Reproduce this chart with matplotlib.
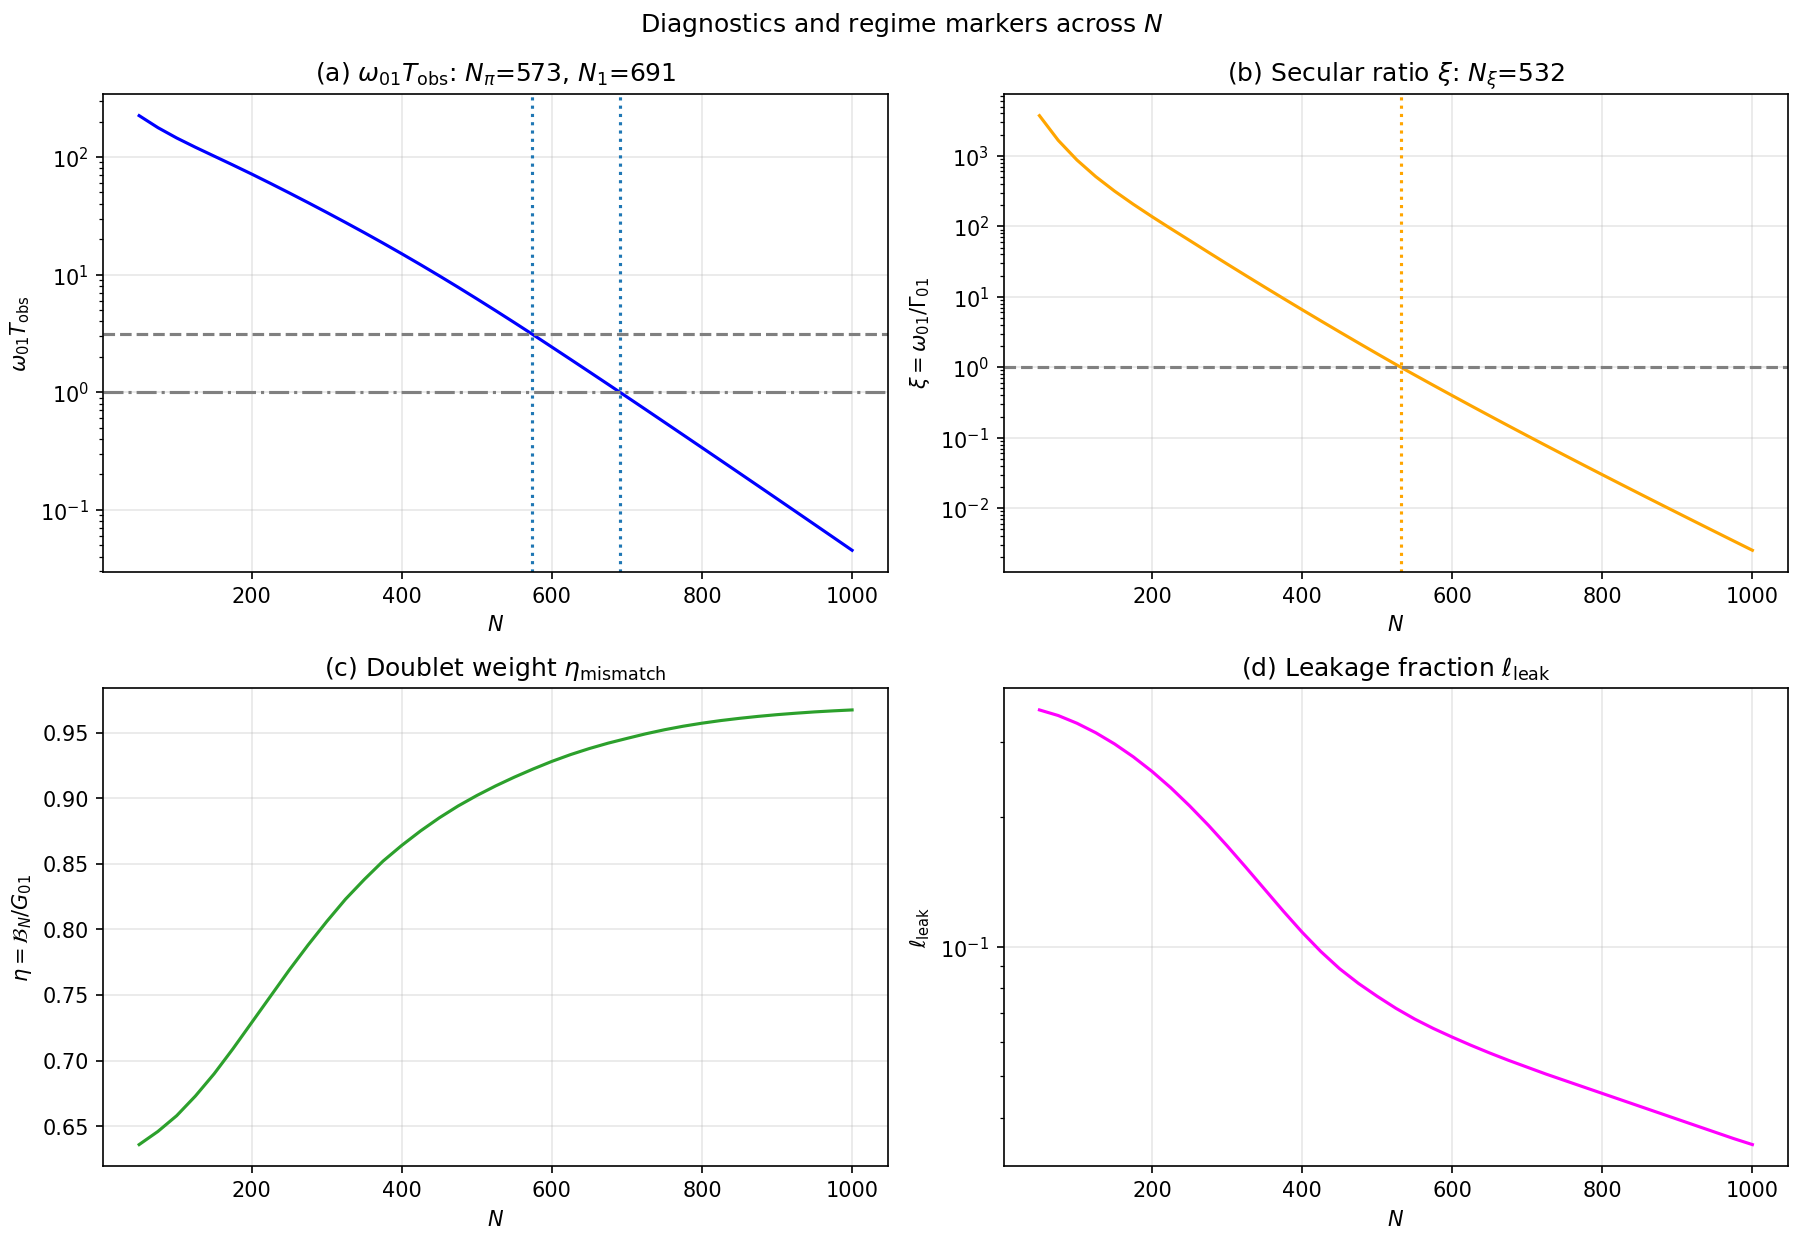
import numpy as np
import matplotlib
matplotlib.use("Agg")
import matplotlib.pyplot as plt

# Sample points in N
N = list(range(50, 1001, 25))

# (a) log10 of omega_01 * T_obs
log_omegaT = [2.352, 2.250, 2.162, 2.083, 2.0075, 1.932, 1.855, 1.7757, 1.6949,
              1.6126, 1.5288, 1.4435, 1.3567, 1.2679, 1.1771, 1.0843, 0.9895,
              0.8927, 0.7939, 0.6936, 0.5918, 0.4885, 0.3837, 0.2784, 0.1726,
              0.0663, -0.0405, -0.1478, -0.2556, -0.3636, -0.4718, -0.5802,
              -0.6888, -0.7976, -0.9066, -1.0158, -1.1252, -1.2348, -1.3446]
# (b) log10 of secular ratio xi
log_xi = [3.57, 3.22, 2.94, 2.705, 2.500, 2.313, 2.137, 1.967, 1.800, 1.632,
          1.4657, 1.3012, 1.1382, 0.9767, 0.8167, 0.6582, 0.5012, 0.3457,
          0.1917, 0.0392, -0.1093, -0.2563, -0.4018, -0.546, -0.689, -0.8308,
          -0.9715, -1.1111, -1.2497, -1.3874, -1.5243, -1.6604, -1.7958,
          -1.9306, -2.0648, -2.1985, -2.3317, -2.4645, -2.5969]
# (c) doublet weight eta
eta = [0.636, 0.646, 0.658, 0.673, 0.690, 0.709, 0.729, 0.749, 0.769, 0.788,
       0.806, 0.823, 0.838, 0.852, 0.864, 0.875, 0.885, 0.894, 0.902, 0.9093,
       0.9160, 0.9222, 0.9280, 0.9332, 0.9378, 0.9419, 0.9455, 0.9490, 0.9521,
       0.9548, 0.9571, 0.9591, 0.9608, 0.9623, 0.9636, 0.9647, 0.9657, 0.9665,
       0.9672]
# (d) log10 of leakage fraction
log_leak = [-0.449, -0.462, -0.480, -0.502, -0.528, -0.558, -0.592, -0.630,
            -0.672, -0.717, -0.765, -0.815, -0.866, -0.917, -0.966, -1.011,
            -1.051, -1.085, -1.115, -1.143, -1.168, -1.190, -1.210, -1.229,
            -1.247, -1.264, -1.280, -1.296, -1.311, -1.326, -1.341, -1.356,
            -1.371, -1.386, -1.401, -1.416, -1.431, -1.446, -1.460]

N_pi, N_1, N_xi = 573, 691, 532
pi_level = np.pi

Na = np.array(N)
omegaT = 10 ** np.array(log_omegaT)
xi = 10 ** np.array(log_xi)
leak = 10 ** np.array(log_leak)

fig, axes = plt.subplots(2, 2, figsize=(12.02, 8.27), dpi=150)
(ax1, ax2), (ax3, ax4) = axes
fig.subplots_adjust(left=0.0574, right=0.9917, top=0.9239, bottom=0.0594,
                    wspace=0.148, hspace=0.243)

ax1.semilogy(Na, omegaT, color='blue', lw=1.5)
ax1.axhline(pi_level, color='gray', ls='--', lw=1.5)
ax1.axhline(1.0, color='gray', ls='-.', lw=1.5)
ax1.axvline(N_pi, color='#1f77b4', ls=':', lw=1.5)
ax1.axvline(N_1, color='#1f77b4', ls=':', lw=1.5)
ax1.set_title(r'(a) $\omega_{01}T_{\rm obs}$: $N_\pi$=%d, $N_1$=%d' % (N_pi, N_1))
ax1.set_ylabel(r'$\omega_{01}T_{\rm obs}$')

ax2.semilogy(Na, xi, color='orange', lw=1.5)
ax2.axhline(1.0, color='gray', ls='--', lw=1.5)
ax2.axvline(N_xi, color='orange', ls=':', lw=1.5)
ax2.set_title(r'(b) Secular ratio $\xi$: $N_\xi$=%d' % N_xi)
ax2.set_ylabel(r'$\xi=\omega_{01}/\Gamma_{01}$')

ax3.plot(Na, eta, color='#2ca02c', lw=1.5)
ax3.set_title(r'(c) Doublet weight $\eta_{\rm mismatch}$')
ax3.set_ylabel(r'$\eta=\mathcal{B}_N/G_{01}$')

ax4.semilogy(Na, leak, color='magenta', lw=1.5)
ax4.set_title(r'(d) Leakage fraction $\ell_{\rm leak}$')
ax4.set_ylabel(r'$\ell_{\rm leak}$')

for ax in axes.flat:
    ax.set_xlabel(r'$N$')
    ax.grid(True, alpha=0.3)

fig.suptitle(r'Diagnostics and regime markers across $N$', y=0.98, va='center')
fig.savefig('out.png', dpi=150)
